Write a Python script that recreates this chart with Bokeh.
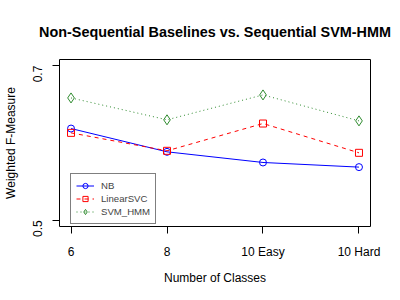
from bokeh.plotting import figure
from bokeh.models import Range1d, FixedTicker, Legend, LinearAxis
from bokeh.embed import file_html
from bokeh.resources import INLINE

categories = ["6", "8", "10 Easy", "10 Hard"]
x_pos = [1, 2, 3, 4]
nb = [0.6187, 0.5886, 0.5748, 0.5688]
linear_svc = [0.6131, 0.5899, 0.6252, 0.5873]
svm_hmm = [0.6583, 0.6300, 0.6622, 0.6286]
y_ticks = [0.5, 0.7]
title_text = "Non-Sequential Baselines vs. Sequential SVM-HMM"

FONT = "Liberation Sans"

p = figure(width=400, height=300, output_backend="svg", toolbar_location=None,
           x_range=Range1d(0.88, 4.12), y_range=Range1d(0.492, 0.708),
           min_border_left=59, min_border_right=30, min_border_top=59, min_border_bottom=74)
p.background_fill_color = "white"
p.border_fill_color = "white"
p.grid.visible = False
p.outline_line_color = "black"
p.outline_line_width = 1

for ax in (p.xaxis[0], p.yaxis[0]):
    ax.axis_line_color = None
    ax.major_tick_in = 0
    ax.major_tick_out = 7
    ax.minor_tick_line_color = None
    ax.major_tick_line_color = "black"
    ax.major_label_text_font = FONT
    ax.major_label_text_font_size = "12px"
    ax.major_label_text_color = "black"
    ax.axis_label_text_font = FONT
    ax.axis_label_text_font_size = "12px"
    ax.axis_label_text_font_style = "normal"
    ax.axis_label_text_color = "black"

p.xaxis.ticker = FixedTicker(ticks=x_pos)
p.xaxis.major_label_overrides = {x: c for x, c in zip(x_pos, categories)}
p.xaxis.major_label_standoff = 11
p.xaxis.axis_label = "Number of Classes"
p.xaxis.axis_label_standoff = 9

p.yaxis.ticker = FixedTicker(ticks=y_ticks)
p.yaxis.major_label_overrides = {0.5: "0.5", 0.7: "0.7"}
p.yaxis.major_label_orientation = 1.5707963
p.yaxis.major_label_standoff = 15
p.yaxis.axis_label = "Weighted F-Measure"
p.yaxis.axis_label_standoff = 8

# main title, centred over the plot region like R's title
title_axis = LinearAxis(ticker=FixedTicker(ticks=[]), axis_label=title_text,
                        axis_line_color=None, major_tick_line_color=None,
                        minor_tick_line_color=None, major_label_text_font_size="0px",
                        axis_label_text_font=FONT, axis_label_text_font_size="14.4px",
                        axis_label_text_font_style="bold", axis_label_text_color="black",
                        axis_label_standoff=20)
p.add_layout(title_axis, "above")

green = "#2e8b2e"

r1 = p.line(x_pos, nb, line_color="blue", line_width=1)
s1 = p.scatter(x_pos, nb, marker="circle", size=7, fill_color=None, line_color="blue", line_width=1)
r2 = p.line(x_pos, linear_svc, line_color="red", line_width=1, line_dash="4 4")
s2 = p.scatter(x_pos, linear_svc, marker="square", size=7, fill_color=None, line_color="red", line_width=1)
r3 = p.line(x_pos, svm_hmm, line_color=green, line_width=1, line_dash="1 3")
s3 = p.scatter(x_pos, svm_hmm, marker="diamond", size=10, fill_color=None, line_color=green, line_width=1)

legend = Legend(items=[("NB", [r1, s1]), ("LinearSVC", [r2, s2]), ("SVM_HMM", [r3, s3])],
                location=(11, 2), padding=5, margin=0, spacing=0,
                glyph_width=18, glyph_height=13, label_height=13, label_standoff=7,
                label_text_font=FONT, label_text_font_size="9.6px",
                border_line_color="black", border_line_width=1,
                background_fill_alpha=1.0)
p.add_layout(legend, "center")

open("out.html", "w").write(file_html(p, INLINE))
